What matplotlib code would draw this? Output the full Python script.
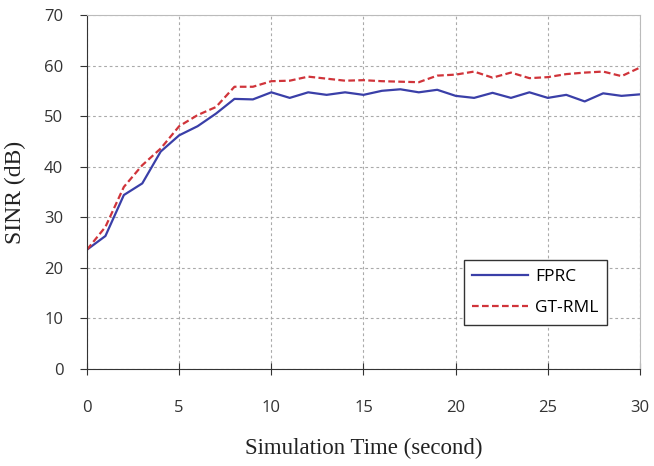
import numpy as np
import matplotlib.pyplot as plt

# simulation time (s)
time_s = list(range(0, 31))

# SINR (dB)
fprc = [23.6, 26.3, 34.4, 36.7, 43.0, 46.2, 48.0, 50.5, 53.4, 53.3,
        54.7, 53.6, 54.7, 54.2, 54.7, 54.2, 55.0, 55.3, 54.7, 55.2,
        54.0, 53.6, 54.6, 53.6, 54.7, 53.6, 54.2, 52.9, 54.5, 54.0, 54.3]
gt_rml = [23.6, 28.1, 36.0, 40.3, 43.6, 48.0, 50.2, 51.8, 55.8, 55.8,
          56.9, 57.0, 57.8, 57.4, 57.0, 57.1, 56.9, 56.8, 56.7, 58.0,
          58.2, 58.8, 57.6, 58.6, 57.5, 57.7, 58.3, 58.6, 58.8, 57.9, 59.6]

fig = plt.figure(figsize=(6.54, 4.66), dpi=100)
ax = fig.add_axes([0.133, 0.208, 0.8456, 0.760])

ax.plot(time_s, fprc, color='#3a3fa8', lw=1.6, label='FPRC')
ax.plot(time_s, gt_rml, color='#d0343a', lw=1.6, ls=(0, (3, 1.5)), label='GT-RML')

ax.set_xlim(0, 30)
ax.set_ylim(0, 70)
ax.set_xticks(range(0, 31, 5))
ax.set_yticks(range(0, 71, 10))
ax.grid(True, color='#aaaaaa', ls=(0, (2.5, 2.5)), lw=0.8)

for s in ['top', 'right']:
    ax.spines[s].set_color('#bbbbbb')
for s in ['left', 'bottom']:
    ax.spines[s].set_color('#333333')

ax.tick_params(axis='x', direction='inout', length=8, labelsize=12, pad=18, colors='#333333')
ax.tick_params(axis='y', direction='out', length=5, labelsize=12, pad=12, colors='#333333')
for lab in ax.get_xticklabels() + ax.get_yticklabels():
    lab.set_family('Open Sans')

ax.set_xlabel('Simulation Time (second)', family='Liberation Serif', fontsize=16.5, labelpad=16, color='#222222')
ax.set_ylabel('SINR (dB)', family='Liberation Serif', fontsize=17, color='#222222')
ax.yaxis.set_label_coords(-0.110, 0.5)

leg = ax.legend(loc='lower right', bbox_to_anchor=(0.940, 0.124), borderaxespad=0,
                fancybox=False, edgecolor='#333333', framealpha=1, handlelength=3.2,
                prop={'family': 'Open Sans', 'size': 12.5}, borderpad=0.5, labelspacing=0.9,
                handletextpad=0.4)
leg.get_frame().set_linewidth(1.0)

fig.savefig('out.png', dpi=100)
